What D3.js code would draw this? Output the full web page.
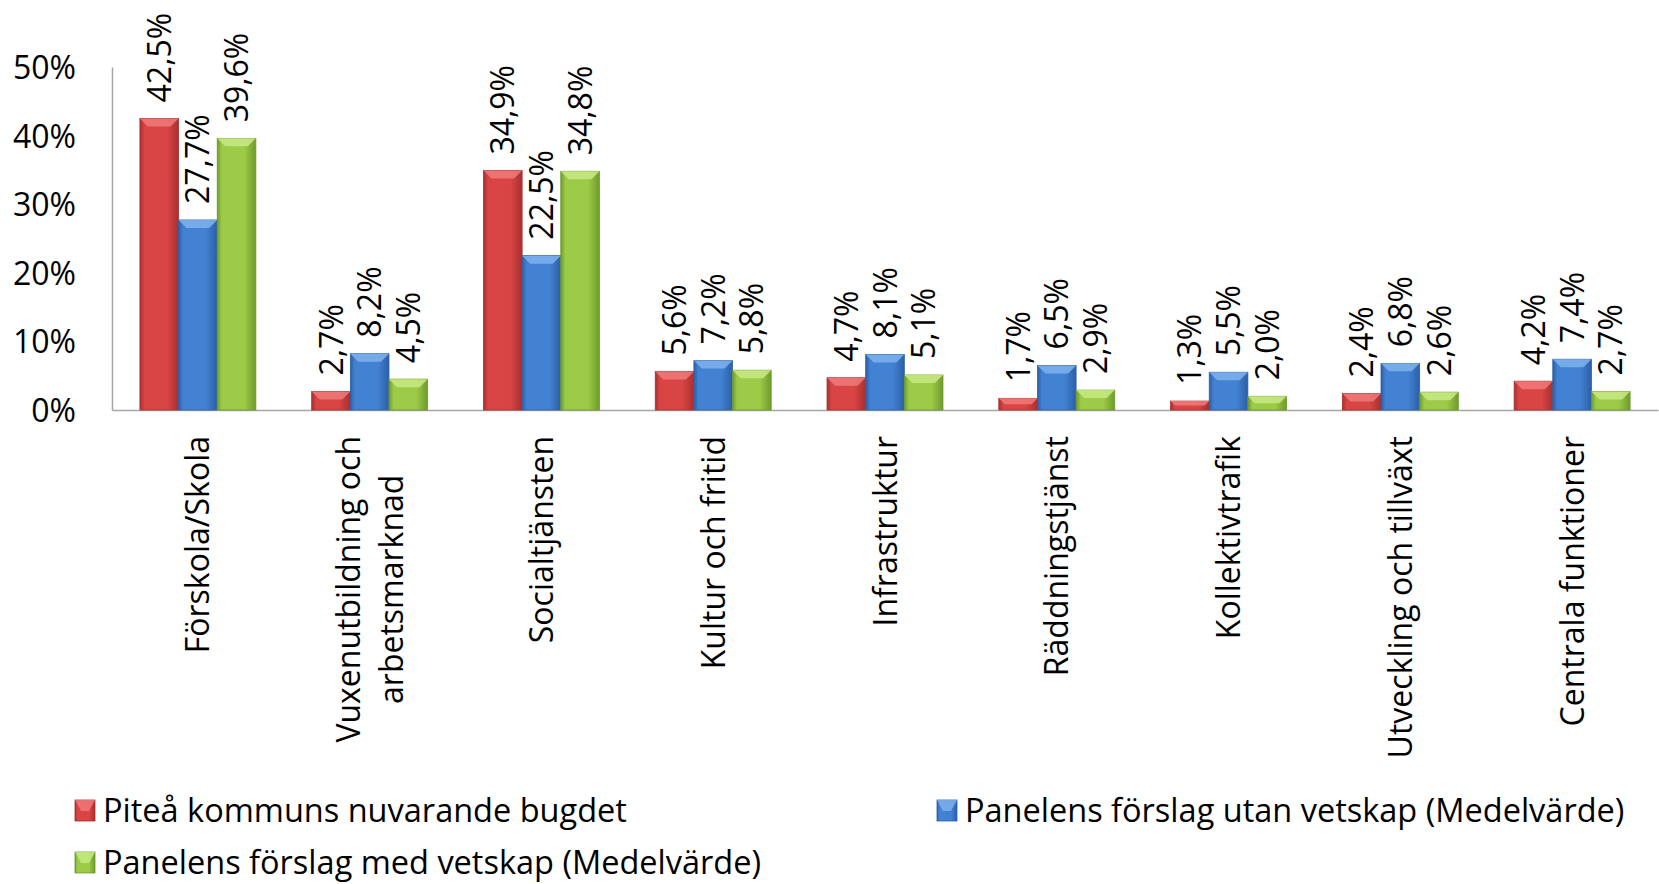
<!DOCTYPE html>
<html>
<head>
<meta charset="utf-8">
<script src="https://cdn.jsdelivr.net/npm/d3@7"></script>
<style>
  body { margin: 0; background: #fff; }
  svg text { font-family: "Open Sans", sans-serif; fill: #000; }
</style>
</head>
<body>
<div id="chart"></div>
<script>
// ******************data**********************
const categories = ["Förskola/Skola", "Vuxenutbildning och|arbetsmarknad", "Socialtjänsten", "Kultur och fritid",
  "Infrastruktur", "Räddningstjänst", "Kollektivtrafik", "Utveckling och tillväxt", "Centrala funktioner"]
const seriesNames = ["Piteå kommuns nuvarande bugdet", "Panelens förslag utan vetskap (Medelvärde)",
  "Panelens förslag med vetskap (Medelvärde)"]
const budget = [42.5, 2.7, 34.9, 5.6, 4.7, 1.7, 1.3, 2.4, 4.2]
const utanVetskap = [27.7, 8.2, 22.5, 7.2, 8.1, 6.5, 5.5, 6.8, 7.4]
const medVetskap = [39.6, 4.5, 34.8, 5.8, 5.1, 2.9, 2.0, 2.6, 2.7]
const yTicks = [0, 10, 20, 30, 40, 50]

const seriesValues = [budget, utanVetskap, medVetskap]
const colors = [
  { mid: "#d94545", edge: "#a92f2f", top: "#f07a7a" },
  { mid: "#4382d2", edge: "#2c5fa6", top: "#7fb3ee" },
  { mid: "#9ccb47", edge: "#6f9a2c", top: "#c8ea85" }
]

const width = 1659
const height = 884
const margin = { top: 67, right: 1, bottom: 473, left: 112 }

const svg = d3.select("#chart")
  .append("svg")
  .attr("width", width)
  .attr("height", height)

// gradients
const defs = svg.append("defs")
colors.forEach((c, i) => {
  const g = defs.append("linearGradient")
    .attr("id", "grad" + i)
    .attr("x1", "0").attr("x2", "1").attr("y1", "0").attr("y2", "0")
  g.append("stop").attr("offset", "0%").attr("stop-color", c.edge)
  g.append("stop").attr("offset", "12%").attr("stop-color", c.mid)
  g.append("stop").attr("offset", "70%").attr("stop-color", c.mid)
  g.append("stop").attr("offset", "100%").attr("stop-color", c.edge)
})

// *****************scales*********************
const x0 = d3.scaleBand()
  .domain(categories)
  .range([margin.left, width - margin.right])
  .paddingInner(0.325)
  .paddingOuter(0.1625)

const x1 = d3.scaleBand()
  .domain(d3.range(seriesNames.length))
  .range([0, x0.bandwidth()])

const y = d3.scaleLinear()
  .domain([0, 50])
  .range([height - margin.bottom - 1, margin.top])

// *****************axes*********************
const yAxis = svg.append("g")
  .attr("transform", "translate(" + margin.left + ",0)")
  .call(d3.axisLeft(y).tickValues(yTicks).tickSize(0).tickPadding(36).tickFormat(d => d + "%"))
yAxis.select(".domain").attr("stroke", "#a6a6a6").attr("stroke-width", 1.5)
yAxis.selectAll("text").style("font-size", "32px").attr("dy", "0.36em")

const xAxis = svg.append("g")
  .attr("transform", "translate(0," + y(0) + ")")
  .call(d3.axisBottom(x0).tickSize(0).tickFormat(""))
xAxis.select(".domain").attr("stroke", "#a6a6a6").attr("stroke-width", 1.5)

// category labels (rotated, wrapped)
const catTop = y(0) + 26
categories.forEach(c => {
  const lines = c.split("|")
  const cx = x0(c) + x0.bandwidth() / 2
  const g = svg.append("g")
  const texts = lines.map((l, i) => g.append("text")
    .style("font-size", "32px")
    .attr("text-anchor", "middle")
    .text(l))
  const maxW = d3.max(texts, t => t.node().getComputedTextLength())
  const lineH = 43
  texts.forEach((t, i) => {
    const off = (i - (lines.length - 1) / 2) * lineH
    t.attr("transform", "translate(" + (cx + off) + "," + (catTop + maxW / 2) + ") rotate(-90)")
      .attr("dy", "0.36em")
  })
})

// *****************bars*********************
const groups = svg.selectAll(".group")
  .data(categories)
  .enter()
  .append("g")
  .attr("class", "group")
  .attr("transform", d => "translate(" + x0(d) + ",0)")

seriesValues.forEach((vals, s) => {
  const bw = x1.bandwidth()
  groups.append("rect")
    .attr("x", x1(s))
    .attr("y", (d, i) => y(vals[i]))
    .attr("width", bw)
    .attr("height", (d, i) => y(0) - y(vals[i]))
    .attr("fill", "url(#grad" + s + ")")
    .attr("stroke", colors[s].edge)
    .attr("stroke-width", 0.8)

  // bevel on the top
  groups.append("path")
    .attr("d", (d, i) => {
      const top = y(vals[i])
      const b = Math.min(8, (y(0) - top) / 2)
      const xl = x1(s)
      return "M" + xl + "," + top + "L" + (xl + bw) + "," + top +
        "L" + (xl + bw - b) + "," + (top + b) + "L" + (xl + b) + "," + (top + b) + "Z"
    })
    .attr("fill", colors[s].top)
    .attr("opacity", 0.85)

  // value labels
  groups.append("text")
    .attr("transform", (d, i) => "translate(" + (x1(s) + bw / 2) + "," + (y(vals[i]) - 16) + ") rotate(-90)")
    .attr("dy", "0.36em")
    .style("font-size", "32px")
    .text((d, i) => d3.format(".1f")(vals[i]).replace(".", ",") + "%")
})

// *****************legend*********************
const legendItems = [
  { x: 75, y: 810 },
  { x: 937, y: 810 },
  { x: 75, y: 862 }
]
seriesNames.forEach((name, s) => {
  const lg = svg.append("g").attr("transform", "translate(" + legendItems[s].x + "," + legendItems[s].y + ")")
  lg.append("rect")
    .attr("x", 0).attr("y", -10)
    .attr("width", 20).attr("height", 21)
    .attr("fill", "url(#grad" + s + ")")
    .attr("stroke", colors[s].edge)
    .attr("stroke-width", 0.8)
  lg.append("path")
    .attr("d", "M0,-10L20,-10L14,1L6,1Z")
    .attr("fill", colors[s].top)
    .attr("opacity", 0.8)
  lg.append("text")
    .attr("x", 28)
    .attr("dy", "0.36em")
    .style("font-size", "32.5px")
    .text(name)
})
</script>
</body>
</html>
